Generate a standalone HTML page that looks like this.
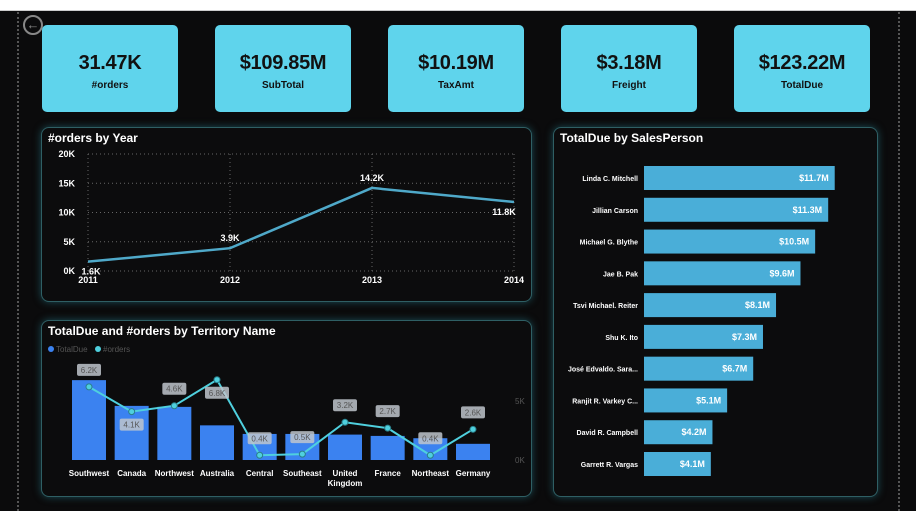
<!DOCTYPE html>
<html><head><meta charset="utf-8">
<style>
body{margin:0;width:916px;height:511px;background:#0b0b0c;overflow:hidden;font-family:"Liberation Sans",sans-serif;position:relative}
.top{position:absolute;left:0;top:0;width:916px;height:10px;background:#fff;border-bottom:1px solid #ccc}
.dl{position:absolute;top:12px;bottom:0;border-left:2px dotted #555}
.card{position:absolute;top:25px;width:136px;height:87px;background:#5fd4ec;border-radius:5px;text-align:center;color:#111}
.card .v{font-weight:bold;font-size:20px;margin-top:27px;letter-spacing:-0.3px}
.card .l{font-weight:bold;font-size:10px;margin-top:5px}
.panel{position:absolute;border:1px solid #2f5f64;border-radius:8px;background:#0c0c0d;box-shadow:0 0 8px #1b4c55}
.ttl{position:absolute;left:6px;top:3px;color:#fff;font-weight:bold;font-size:12px}
svg text{font-family:"Liberation Sans",sans-serif}
</style></head><body>
<div class="top"></div>
<div class="dl" style="left:17px"></div>
<div class="dl" style="left:898px"></div>
<div style="position:absolute;left:23px;top:15px;width:16px;height:16px;border:2px solid #888;border-radius:50%;color:#888;font-size:13px;line-height:16px;text-align:center">&#8592;</div>
<div class="card" style="left:42px"><div class="v">31.47K</div><div class="l">#orders</div></div>
<div class="card" style="left:215px"><div class="v">$109.85M</div><div class="l">SubTotal</div></div>
<div class="card" style="left:388px"><div class="v">$10.19M</div><div class="l">TaxAmt</div></div>
<div class="card" style="left:561px"><div class="v">$3.18M</div><div class="l">Freight</div></div>
<div class="card" style="left:734px"><div class="v">$123.22M</div><div class="l">TotalDue</div></div>

<div class="panel" style="left:41px;top:127px;width:489px;height:173px"><div class="ttl">#orders by Year</div></div>
<div class="panel" style="left:41px;top:320px;width:489px;height:175px"><div class="ttl">TotalDue and #orders by Territory Name</div></div>
<div class="panel" style="left:553px;top:127px;width:323px;height:368px"><div class="ttl">TotalDue by SalesPerson</div></div>

<svg id="s" width="916" height="511" style="position:absolute;left:0;top:0"></svg>
<script>
const years=["2011","2012","2013","2014"];
const yearOrders=[1.6,3.9,14.2,11.8];
const yTicks=[0,5,10,15,20];
const territories=["Southwest","Canada","Northwest","Australia","Central","Southeast","United Kingdom","France","Northeast","Germany"];
const terrDue=[24.2,16.4,16.1,10.5,7.9,7.9,7.7,7.3,6.6,4.9];
const terrOrders=[6.2,4.1,4.6,6.8,0.4,0.5,3.2,2.7,0.4,2.6];
const people=["Linda C. Mitchell","Jillian Carson","Michael G. Blythe","Jae B. Pak","Tsvi Michael. Reiter","Shu K. Ito","José Edvaldo. Sara...","Ranjit R. Varkey C...","David R. Campbell","Garrett R. Vargas"];
const personDue=[11.7,11.3,10.5,9.6,8.1,7.3,6.7,5.1,4.2,4.1];

const S=document.getElementById('s');const NS="http://www.w3.org/2000/svg";
function mk(t,a,txt){const e=document.createElementNS(NS,t);for(const k in a)e.setAttribute(k,a[k]);if(txt!==undefined)e.textContent=txt;S.appendChild(e);return e;}

const lx=i=>88+i*(514-88)/(years.length-1), ly=v=>271-v*(271-154)/20;
yTicks.forEach(t=>{
 const g=mk('line',{x1:88,x2:514,y1:ly(t),y2:ly(t),stroke:'#666','stroke-dasharray':'1,3'});
 
 
 const tx=mk('text',{x:75,y:ly(t)+3,fill:'#fff','font-size':9,'font-weight':'bold','text-anchor':'end'},t+'K');
 
 
});
years.forEach((y,i)=>{
 const g=mk('line',{x1:lx(i),x2:lx(i),y1:154,y2:271,stroke:'#666','stroke-dasharray':'1,3'});
 
 
 const tx=mk('text',{x:lx(i),y:283,fill:'#fff','font-size':9,'font-weight':'bold','text-anchor':'middle'},y);
 
 
});
const pl=mk('polyline',{points:yearOrders.map((v,i)=>lx(i)+','+ly(v)).join(' '),fill:'none',stroke:'#4fa9c9','stroke-width':2.5});


yearOrders.forEach((v,i)=>{
 const dy=(i===0||i===3)?10:-10; const ax=i===3?-10:(i===0?3:0);
 const tx=mk('text',{x:lx(i)+ax,y:ly(v)+dy+3,fill:'#fff','font-size':9,'font-weight':'bold','text-anchor':'middle'},v+'K');
 
 
});

[["TotalDue","#3b82f0",48],["#orders","#4fd0de",95]].forEach(([n,c,x])=>{
 const d=mk('circle',{cx:x+3,cy:349,r:3,fill:c});
 
 
 const t=mk('text',{x:x+8,y:352,fill:'#555','font-size':8},n);
 
 
});
const bx=i=>89+i*(473-89)/(territories.length-1), bh=v=>v*3.3, oy=v=>460-v*11.8;
territories.forEach((n,i)=>{
 const r=mk('rect',{x:bx(i)-17,y:460-bh(terrDue[i]),width:34,height:bh(terrDue[i]),fill:'#3b82f0'});
 
 
 const parts=n==="United Kingdom"?["United","Kingdom"]:[n];
 parts.forEach((p,k)=>{
  const t=mk('text',{x:bx(i),y:476+k*10,fill:'#fff','font-size':8,'font-weight':'bold','text-anchor':'middle'},p);
  
  
 });
});
const ol=mk('polyline',{points:terrOrders.map((v,i)=>bx(i)+','+oy(v)).join(' '),fill:'none',stroke:'#4fd0de','stroke-width':2});


terrOrders.forEach((v,i)=>{
 const c=mk('circle',{cx:bx(i),cy:oy(v),r:3,fill:'#4fd0de',stroke:'#2a7f8a'});
 
 
 const below=(i===1||i===3);
 const ly2=below?oy(v)+14:oy(v)-16;
 const b=mk('rect',{x:bx(i)-12,y:ly2-7,width:24,height:12,rx:2,fill:'#bfc6cc',opacity:0.85});
 
 
 const t=mk('text',{x:bx(i),y:ly2+2,fill:'#555','font-size':8,'text-anchor':'middle'},v+'K');
 
 
});
[[0,'0K'],[5,'5K']].forEach(([v,l])=>{
 const t=mk('text',{x:515,y:oy(v)+3,fill:'#555','font-size':8},l);
 
 
});

const px=v=>v*16.3, py=i=>178+i*(464-178)/(people.length-1);
people.forEach((n,i)=>{
 const r=mk('rect',{x:644,y:py(i)-12,width:px(personDue[i]),height:24,fill:'#4aaed8'});
 
 
 const t=mk('text',{x:638,y:py(i)+3,fill:'#fff','font-size':7,'font-weight':'bold','text-anchor':'end'},n);
 
 
 const v=mk('text',{x:644+px(personDue[i])-6,y:py(i)+3,fill:'#fff','font-size':9,'font-weight':'bold','text-anchor':'end'},'$'+personDue[i]+'M');
 
 
});
</script>
</body></html>
